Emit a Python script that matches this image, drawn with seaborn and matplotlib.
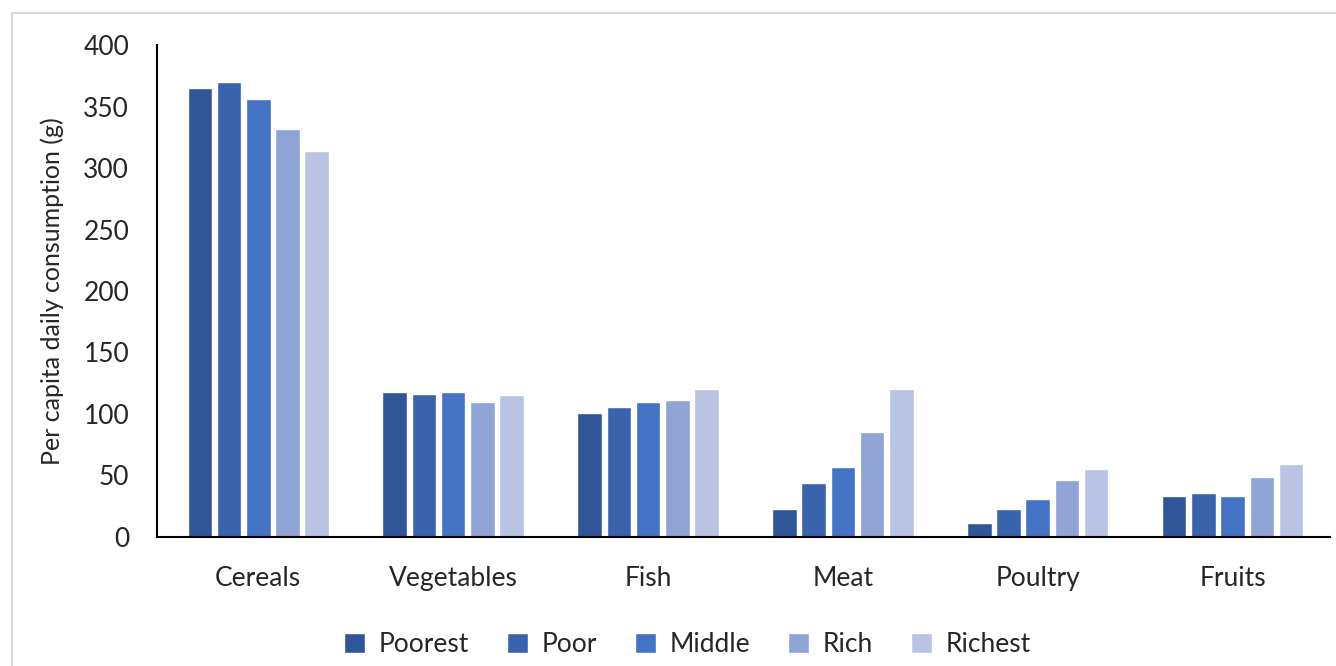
import matplotlib
matplotlib.use("Agg")
import matplotlib.pyplot as plt
import seaborn as sns
import pandas as pd
from matplotlib.patches import Rectangle

categories = ["Cereals", "Vegetables", "Fish", "Meat", "Poultry", "Fruits"]
groups = ["Poorest", "Poor", "Middle", "Rich", "Richest"]
poorest = [365, 118, 101, 23, 11, 33]
poor = [370, 116, 106, 44, 23, 36]
middle = [356, 118, 110, 57, 31, 33]
rich = [332, 110, 111, 85, 46, 49]
richest = [314, 115, 120, 120, 55, 59]
colors = ["#30569A", "#3A63AD", "#4472C4", "#8FA3D5", "#B9C3E3"]

rows = []
for g, vals in zip(groups, [poorest, poor, middle, rich, richest]):
    for c, v in zip(categories, vals):
        rows.append({"Food": c, "Group": g, "Value": v})
df = pd.DataFrame(rows)

sns.set_theme(style="white")
plt.rcParams["font.family"] = ["Lato", "DejaVu Sans"]

fig = plt.figure(figsize=(13.36, 6.66), dpi=100)
ax = fig.add_axes([0.1175, 0.194, 0.878, 0.738])

sns.barplot(data=df, x="Food", y="Value", hue="Group", order=categories,
            hue_order=groups, palette=colors, width=0.75, gap=0.16,
            edgecolor="white", linewidth=1.0, saturation=1, ax=ax)

ax.set_ylim(0, 400)
ax.set_xlim(-0.52, 5.5)
ax.set_yticks(range(0, 401, 50))
ax.tick_params(axis="both", length=0, labelsize=19)
ax.tick_params(axis="x", pad=21)
ax.tick_params(axis="y", pad=20)
ax.set_xlabel("")
ax.set_ylabel("Per capita daily consumption (g)", fontsize=18, labelpad=14)
sns.despine(ax=ax)
ax.spines["left"].set_color("black")
ax.spines["bottom"].set_color("black")
ax.spines["left"].set_linewidth(1.5)
ax.spines["bottom"].set_linewidth(1.5)

ax.legend(loc="upper center", bbox_to_anchor=(0.452, -0.145), ncol=5, frameon=False,
          fontsize=19, handlelength=0.8, handleheight=0.8, columnspacing=1.45,
          handletextpad=0.5)

fig.patches.append(Rectangle((0.009, -0.01), 1.0, 0.99, transform=fig.transFigure,
                             fill=False, edgecolor="#D9D9D9", linewidth=1.5))

fig.savefig("out.png", dpi=100)
